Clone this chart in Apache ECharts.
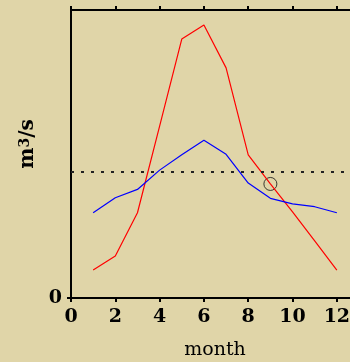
<!DOCTYPE html>
<html>
<head>
<meta charset="utf-8">
<script src="https://cdn.jsdelivr.net/npm/echarts@6/dist/echarts.min.js"></script>
<style>
  html, body { margin: 0; padding: 0; background: #e0d5a8; }
  #chart { width: 350px; height: 362px; }
</style>
</head>
<body>
<div id="chart"></div>
<script>
// months on the x axis
const months = [1, 2, 3, 4, 5, 6, 7, 8, 9, 10, 11, 12];
// red series (peaky flow)
const redFlow = [9.7, 14.6, 29.6, 59.7, 89.9, 94.8, 79.9, 49.7, 39.6, 29.9, 19.8, 9.7];
// blue series (flatter flow)
const blueFlow = [29.6, 34.8, 37.7, 44.4, 49.7, 54.8, 49.9, 39.9, 34.6, 32.7, 31.7, 29.6];
// dotted reference level
const refLevel = 43.8;
// circled point
const markedMonth = 9;

const xTicks = [0, 2, 4, 6, 8, 10, 12];
const yTicks = [0];

const serif = "DejaVu Serif";
const black = "#000";

const chart = echarts.init(document.getElementById("chart"), null, { renderer: "canvas" });

const axisLine = { show: true, lineStyle: { color: black, width: 2 } };

chart.setOption({
  animation: false,
  backgroundColor: "#e0d5a8",
  grid: { left: 71, top: 10, width: 288, height: 288, outerBoundsMode: "none", containLabel: false },
  xAxis: [
    {
      type: "value",
      min: 0,
      max: 13,
      interval: 2,
      name: "month",
      nameLocation: "middle",
      nameGap: 43,
      nameTextStyle: { fontFamily: serif, fontSize: 19, color: black },
      axisLine: axisLine,
      axisTick: { show: true, length: 4, lineStyle: { color: black, width: 2 }, customValues: xTicks },
      axisLabel: {
        customValues: xTicks,
        margin: 10,
        fontFamily: serif,
        fontWeight: "bold",
        fontSize: 19,
        color: black,
      },
      splitLine: { show: false },
    },
    {
      type: "value",
      position: "top",
      min: 0,
      max: 13,
      interval: 2,
      axisLine: axisLine,
      axisTick: { show: true, length: 4, lineStyle: { color: black, width: 2 }, customValues: xTicks },
      axisLabel: { show: false },
      splitLine: { show: false },
    },
  ],
  yAxis: {
    type: "value",
    min: 0,
    max: 100,
    name: "{a|m}{b|3}{a|/s}",
    nameLocation: "middle",
    nameGap: 32,
    nameTextStyle: {
      padding: [0, 0, 0, 20],
      rich: {
        a: { fontFamily: serif, fontWeight: "bold", fontSize: 20, color: black },
        b: { fontFamily: serif, fontWeight: "bold", fontSize: 14, color: black, verticalAlign: "top" },
      },
    },
    axisLine: axisLine,
    axisTick: { show: true, length: 4, lineStyle: { color: black, width: 2 }, customValues: yTicks },
    axisLabel: {
      customValues: yTicks,
      margin: 9,
      fontFamily: serif,
      fontWeight: "bold",
      fontSize: 19,
      color: black,
    },
    splitLine: { show: false },
  },
  series: [
    {
      name: "red",
      type: "line",
      data: months.map((m, i) => [m, redFlow[i]]),
      symbol: "none",
      lineStyle: { color: "#ff0000", width: 1.2 },
      markLine: {
        silent: true,
        symbol: ["none", "none"],
        label: { show: false },
        lineStyle: { color: "#222", width: 2, type: [3, 7] },
        data: [{ yAxis: refLevel }],
      },
    },
    {
      name: "blue",
      type: "line",
      data: months.map((m, i) => [m, blueFlow[i]]),
      symbol: "none",
      lineStyle: { color: "#0000ff", width: 1.2 },
    },
    {
      name: "marked",
      type: "scatter",
      data: [[markedMonth, redFlow[months.indexOf(markedMonth)]]],
      symbol: "circle",
      symbolSize: 13,
      itemStyle: { color: "rgba(0,0,0,0)", borderColor: "#111", borderWidth: 1 },
    },
  ],
});
</script>
</body>
</html>
